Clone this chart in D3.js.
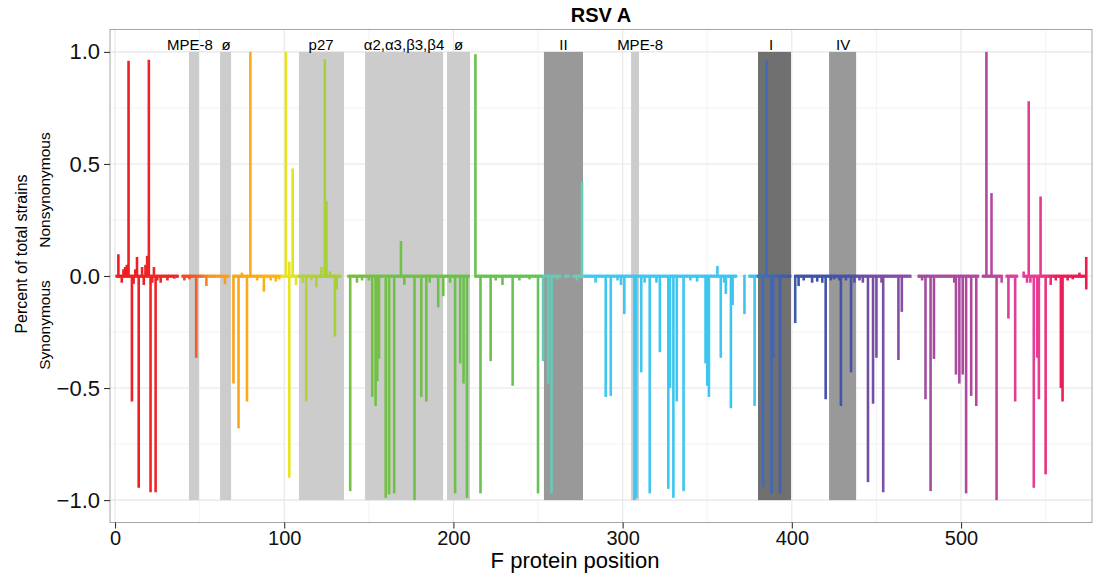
<!DOCTYPE html>
<html><head><meta charset="utf-8">
<script src="https://cdn.jsdelivr.net/npm/d3@7"></script>
<style>
body{margin:0;background:#fff;}
svg{display:block;font-family:"Liberation Sans",Arial,Helvetica,sans-serif;}
</style>
</head><body>
<svg id="chart" width="1094" height="573"></svg>
<script>
// ---------------- data ----------------
const chartTitle = "RSV A";
const xLabel = "F protein position";
const yLabelTop = "Percent of total strains";
const yLabelNonsyn = "Nonsynonymous";
const yLabelSyn = "Synonymous";
const xTicks = [0, 100, 200, 300, 400, 500];
const yTicks = [-1, -0.5, 0, 0.5, 1];
const proteinLength = 574;

// nonsynonymous (positive) major bars: [position, fraction]
const nonsynMajor = [[2,0.097],[6,0.04],[8,0.96],[13,0.085],[16,0.04],[19,0.09],[20,0.965],
  [80,1.0],[101,1.0],[103,0.064],[105,0.48],[122,0.04],[124,0.967],[125,0.335],[169,0.156],
  [213,0.99],[276,0.42],[356,0.045],[385,0.96],[515,1.0],[518,0.37],[540,0.78],[547,0.355],[574,0.085]];

// synonymous (negative) major bars: [position, fraction]
const synMajor = [[10,-0.56],[14,-0.945],[21,-0.965],[24,-0.965],[48,-0.365],[54,-0.045],[65,-0.037],
  [70,-0.48],[73,-0.68],[78,-0.56],[88,-0.07],[103,-0.90],[107,-0.04],[113,-0.56],[119,-0.05],
  [130,-0.27],[131,-0.06],[139,-0.96],[152,-0.54],[154,-0.58],[155,-0.47],[156,-0.37],[160,-0.99],
  [162,-0.975],[165,-0.97],[177,-1.0],[181,-0.54],[184,-0.56],[191,-0.14],[194,-0.09],[201,-0.97],
  [204,-0.39],[206,-0.48],[208,-0.99],[216,-0.97],[222,-0.38],[235,-0.49],[250,-0.97],[253,-0.38],
  [256,-0.48],[258,-0.97],[290,-0.54],[293,-0.535],[301,-0.17],[307,-1.0],[308,-0.99],[311,-0.43],
  [316,-0.97],[322,-0.34],[327,-0.95],[328,-0.50],[330,-0.99],[332,-0.56],[336,-0.96],[349,-0.39],
  [350,-0.49],[351,-0.54],[358,-0.365],[361,-0.08],[364,-0.59],[365,-0.13],[372,-0.17],[378,-0.58],
  [383,-0.94],[388,-0.97],[389,-0.365],[393,-0.97],[402,-0.21],[420,-0.55],[429,-0.58],[435,-0.43],
  [445,-0.92],[448,-0.57],[450,-0.365],[454,-0.965],[463,-0.375],[465,-0.16],[479,-0.55],[482,-0.96],
  [484,-0.37],[497,-0.44],[499,-0.48],[501,-0.44],[503,-0.97],[506,-0.535],[509,-0.58],[521,-1.0],
  [528,-0.19],[532,-0.56],[543,-0.945],[545,-0.365],[546,-0.55],[550,-0.885],[559,-0.50],[560,-0.56],
  [574,-0.06]];

// small visible ticks
const nonsynMinor = [[5,0.03],[7,0.05],[12,0.03],[18,0.05],[23,0.04],[75,0.015],[127,0.02],[537,0.02],[570,0.015]];
const synMinor = [[4,-0.03],[11,-0.035],[17,-0.04],[22,-0.03],[25,-0.02],[27,-0.03],[31,-0.02],[35,-0.012],
  [41,-0.02],[44,-0.015],[84,-0.02],[92,-0.02],[95,-0.025],[97,-0.015],[111,-0.03],[116,-0.02],[143,-0.03],
  [146,-0.02],[150,-0.02],[171,-0.04],[186,-0.03],[198,-0.03],[225,-0.02],[229,-0.04],[239,-0.02],
  [245,-0.015],[261,-0.015],[273,-0.02],[284,-0.03],[297,-0.02],[299,-0.04],[313,-0.03],[320,-0.03],
  [340,-0.02],[344,-0.025],[360,-0.03],[404,-0.045],[407,-0.02],[412,-0.03],[415,-0.025],[418,-0.03],
  [423,-0.02],[425,-0.015],[428,-0.02],[432,-0.02],[437,-0.03],[440,-0.02],[442,-0.03],[453,-0.03],
  [477,-0.02],[496,-0.03],[524,-0.03],[539,-0.03],[541,-0.03],[553,-0.04],[556,-0.02],[563,-0.02],[566,-0.015]];

// position ranges where single-strain variants form the baseline
const baselineRanges = [[1,37],[40,67],[70,133],[138,209],[213,263],[266,268],[271,367],[372,372],
  [375,399],[402,470],[475,510],[513,524],[527,533],[537,574]];
const baselineNonsyn = 0.006;
const baselineSyn = -0.008;

// antigenic sites / epitopes
const bandNames  = ["MPE-8","ø","p27","α2,α3,β3,β4","ø","II","MPE-8","I","IV"];
const bandStart  = [43.7, 62.1, 108.7, 147.8, 196.2, 253.5, 305.0, 380.0, 422.0];
const bandEnd    = [49.6, 68.6, 135.3, 193.9, 209.8, 276.6, 309.7, 399.5, 438.0];
const bandTone   = ["light","light","light","light","light","mid","light","dark","mid"];
const labelAt    = [44.3, 65.6, 121.8, 170.8, 203.0, 265.0, 310.3, 387.7, 430.3];

// position colour stops
const colorPos = [1,37,40,50,56,70,97,99,108,109,136,137,200,252,253,277,278,379,380,405,436,441,470,475,520,527,545,552,556,574];
const colorHex = ["#ed1c24","#ee2a25","#ef4a26","#f0622a","#f6951f","#f9a51b","#fbb515","#e9e41d","#dfe31f",
  "#b4d433","#a2cd3a","#76c043","#6cc04b","#66c35a","#63cab5","#6acdb9","#3ec8f1","#3dc5ef","#3f6fc1",
  "#3e55aa","#4752a7","#6d4fa4","#8a4fa4","#a04ea1","#b5489c","#d8419a","#e63d93","#ea2f77","#ed1d5a","#ee1b4f"];

// ---------------- build ----------------
const nonsyn = new Array(proteinLength + 1).fill(0);
const syn = new Array(proteinLength + 1).fill(0);
baselineRanges.forEach(([a, b]) => { for (let p = a; p <= b; p++) { nonsyn[p] = baselineNonsyn; syn[p] = baselineSyn; } });
nonsynMinor.concat(nonsynMajor).forEach(([p, v]) => nonsyn[p] = v);
synMinor.concat(synMajor).forEach(([p, v]) => syn[p] = v);
const bars = [];
for (let p = 1; p <= proteinLength; p++) {
  if (nonsyn[p] !== 0) bars.push({p, v: nonsyn[p]});
  if (syn[p] !== 0) bars.push({p, v: syn[p]});
}

const svg = d3.select("#chart");
const x = d3.scaleLinear().domain([-2.96, 577.4]).range([110, 1092]);
const y = d3.scaleLinear().domain([-1.1, 1.1]).range([522.5, 29.5]);
const color = d3.scaleLinear().domain(colorPos).range(colorHex).interpolate(d3.interpolateRgb);
const toneFill = {light: "#cccccc", mid: "#999999", dark: "#6f706f"};

const L = 110, R = 1092, T = 29.5, B = 522.5;
svg.append("rect").attr("x", L).attr("y", T).attr("width", R - L).attr("height", B - T).attr("fill", "#fff");

// grid
const xMinor = d3.range(50, 577, 100);
const yMinor = [-0.75, -0.25, 0.25, 0.75];
const grid = svg.append("g");
grid.selectAll(".xm").data(xMinor).join("line").attr("x1", d => x(d)).attr("x2", d => x(d))
  .attr("y1", T).attr("y2", B).attr("stroke", "#f3f3f3").attr("stroke-width", 1);
grid.selectAll(".ym").data(yMinor).join("line").attr("y1", d => y(d)).attr("y2", d => y(d))
  .attr("x1", L).attr("x2", R).attr("stroke", "#f3f3f3").attr("stroke-width", 1);
grid.selectAll(".xM").data(xTicks).join("line").attr("x1", d => x(d)).attr("x2", d => x(d))
  .attr("y1", T).attr("y2", B).attr("stroke", "#e6e6e6").attr("stroke-width", 1.1);
grid.selectAll(".yM").data(yTicks).join("line").attr("y1", d => y(d)).attr("y2", d => y(d))
  .attr("x1", L).attr("x2", R).attr("stroke", "#e6e6e6").attr("stroke-width", 1.1);

// bands
const bands = bandNames.map((n, i) => ({n, s: bandStart[i], e: bandEnd[i], t: bandTone[i], l: labelAt[i]}));
svg.append("g").selectAll("rect").data(bands).join("rect")
  .attr("x", d => x(d.s)).attr("width", d => x(d.e) - x(d.s))
  .attr("y", y(1)).attr("height", y(-1) - y(1))
  .attr("fill", d => toneFill[d.t]);

// bars
svg.append("g").selectAll("line").data(bars).join("line")
  .attr("x1", d => x(d.p)).attr("x2", d => x(d.p))
  .attr("y1", y(0)).attr("y2", d => y(d.v))
  .attr("stroke", d => color(d.p)).attr("stroke-width", 2.6);

// band labels
svg.append("g").selectAll("text").data(bands).join("text")
  .attr("x", d => x(d.l)).attr("y", 50).attr("text-anchor", "middle")
  .attr("font-size", 15).attr("fill", "#000").text(d => d.n);

// border
svg.append("rect").attr("x", L).attr("y", T).attr("width", R - L).attr("height", B - T)
  .attr("fill", "none").attr("stroke", "#a6a6a6").attr("stroke-width", 1);

// axes
const xAxis = svg.append("g").attr("transform", `translate(0,${B})`)
  .call(d3.axisBottom(x).tickValues(xTicks).tickSize(6).tickPadding(2).tickFormat(d3.format("d")));
const yAxis = svg.append("g").attr("transform", `translate(${L},0)`)
  .call(d3.axisLeft(y).tickValues(yTicks).tickSize(6).tickPadding(4).tickFormat(d3.format(".1f")));
[xAxis, yAxis].forEach(a => {
  a.select(".domain").remove();
  a.selectAll(".tick line").attr("stroke", "#333").attr("stroke-width", 1.1);
  a.selectAll(".tick text").attr("fill", "#111")
    .attr("font-family", '"Liberation Sans",Arial,sans-serif');
});
xAxis.selectAll(".tick text").attr("font-size", 20);
yAxis.selectAll(".tick text").attr("font-size", 22);

// titles
svg.append("text").attr("x", 601).attr("y", 22).attr("text-anchor", "middle")
  .attr("font-size", 20).attr("font-weight", "bold").text(chartTitle);
svg.append("text").attr("x", 575).attr("y", 568).attr("text-anchor", "middle")
  .attr("font-size", 22).text(xLabel);
svg.append("text").attr("transform", "translate(27,254) rotate(-90)").attr("text-anchor", "middle")
  .attr("font-size", 16).text(yLabelTop);
svg.append("text").attr("transform", "translate(50,190) rotate(-90)").attr("text-anchor", "middle")
  .attr("font-size", 15.5).text(yLabelNonsyn);
svg.append("text").attr("transform", "translate(50,325) rotate(-90)").attr("text-anchor", "middle")
  .attr("font-size", 15.5).text(yLabelSyn);
</script>
</body></html>
